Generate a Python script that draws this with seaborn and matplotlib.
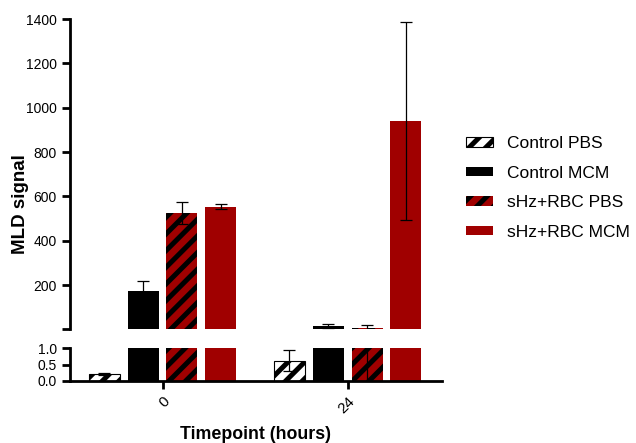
import numpy as np
import pandas as pd
import matplotlib
matplotlib.use('Agg')
import matplotlib.pyplot as plt
from matplotlib.patches import Patch
import seaborn as sns

# 数据
timepoints = ['0', '24']
groups = ['Control PBS', 'Control MCM', 'sHz+RBC PBS', 'sHz+RBC MCM']
means_t0 = [0.22, 173, 525, 553]
means_t24 = [0.62, 15, 5, 940]
sem_t0 = [0.03, 43, 50, 12]
sem_t24 = [0.32, 7, 13, 445]

colors = ['white', 'black', '#a00000', '#a00000']
hatches = ['//', '', '//', '']

sns.set_style('ticks')
plt.rcParams['font.family'] = ['Liberation Sans', 'DejaVu Sans']
plt.rcParams['hatch.linewidth'] = 3.6
plt.rcParams['hatch.color'] = 'black'
for k in ['text.color', 'axes.labelcolor', 'xtick.color', 'ytick.color', 'axes.edgecolor']:
    plt.rcParams[k] = 'black'

df = pd.DataFrame({
    'time': np.repeat(timepoints, len(groups)),
    'group': groups * len(timepoints),
    'value': means_t0 + means_t24,
    'sem': sem_t0 + sem_t24,
})

fig = plt.figure(figsize=(6.36, 4.43), dpi=100)
ax_top = fig.add_axes([0.110, 0.257, 0.585, 0.700])
ax_bot = fig.add_axes([0.110, 0.140, 0.585, 0.074])

for ax, ymin in [(ax_top, 1), (ax_bot, 0)]:
    sns.barplot(data=df, x='time', y='value', hue='group', hue_order=groups,
                palette=colors, saturation=1, errorbar=None, width=0.84, gap=0.2,
                legend=False, ax=ax)
    bar_conts = list(ax.containers)
    for i, cont in enumerate(bar_conts):
        sub = df[df['group'] == groups[i]]
        for b in cont:
            b.set_hatch(hatches[i])
            if i == 0:
                b.set_edgecolor('black')
                b.set_linewidth(0.8 if ymin == 0 else 0)
            elif i == 2:
                b.set_edgecolor('black')
                b.set_linewidth(0)
            else:
                b.set_edgecolor(colors[i])
                b.set_linewidth(0)
        # 只画在当前坐标范围内可见的误差线
        keep = (sub['value'] + sub['sem']).values > ymin
        xs = np.array([b.get_x() + b.get_width() / 2 for b in cont])[keep]
        if len(xs):
            ax.errorbar(xs, sub['value'].values[keep], yerr=sub['sem'].values[keep],
                        fmt='none', ecolor='black', elinewidth=0.9, capsize=4.5,
                        capthick=0.9, zorder=5)
    ax.set_xlim(-0.5, 1.51)
    ax.set_xlabel('')
    ax.set_ylabel('')
    for s in ['top', 'right']:
        ax.spines[s].set_visible(False)
    for s in ['left', 'bottom']:
        ax.spines[s].set_linewidth(2)
    ax.tick_params(axis='both', width=2, length=6, labelsize=10, color='black')

# 上半部分
ax_top.set_ylim(1, 1400)
ax_top.set_yticks([1, 200, 400, 600, 800, 1000, 1200, 1400])
ax_top.set_yticklabels(['', '200', '400', '600', '800', '1000', '1200', '1400'])
ax_top.spines['bottom'].set_visible(False)
ax_top.tick_params(axis='x', bottom=False, labelbottom=False)

# 下半部分
ax_bot.set_ylim(0, 1)
ax_bot.set_yticks([0, 0.5, 1.0])
ax_bot.set_yticklabels(['0.0', '0.5', '1.0'])
ax_bot.set_xticks([0, 1])
ax_bot.set_xticklabels(timepoints, rotation=45, ha='right', rotation_mode='anchor',
                       fontsize=11)
ax_bot.set_xlabel('Timepoint (hours)', fontsize=12.8, fontweight='bold', labelpad=7)

fig.text(0.032, 0.54, 'MLD signal', rotation=90, ha='center', va='center',
         fontsize=13.5, fontweight='bold')

handles = []
for i, g in enumerate(groups):
    ec = 'black' if hatches[i] else colors[i]
    handles.append(Patch(facecolor=colors[i], edgecolor=ec, hatch=hatches[i],
                         linewidth=0.8 if i == 0 else 0, label=g))
fig.legend(handles=handles, loc='upper left', bbox_to_anchor=(0.733, 0.693),
           frameon=False, fontsize=12.5, labelspacing=0.84, handlelength=1.55,
           handleheight=0.46, handletextpad=0.8, borderpad=0, borderaxespad=0)

fig.savefig('out.png', dpi=100)
plt.close()
